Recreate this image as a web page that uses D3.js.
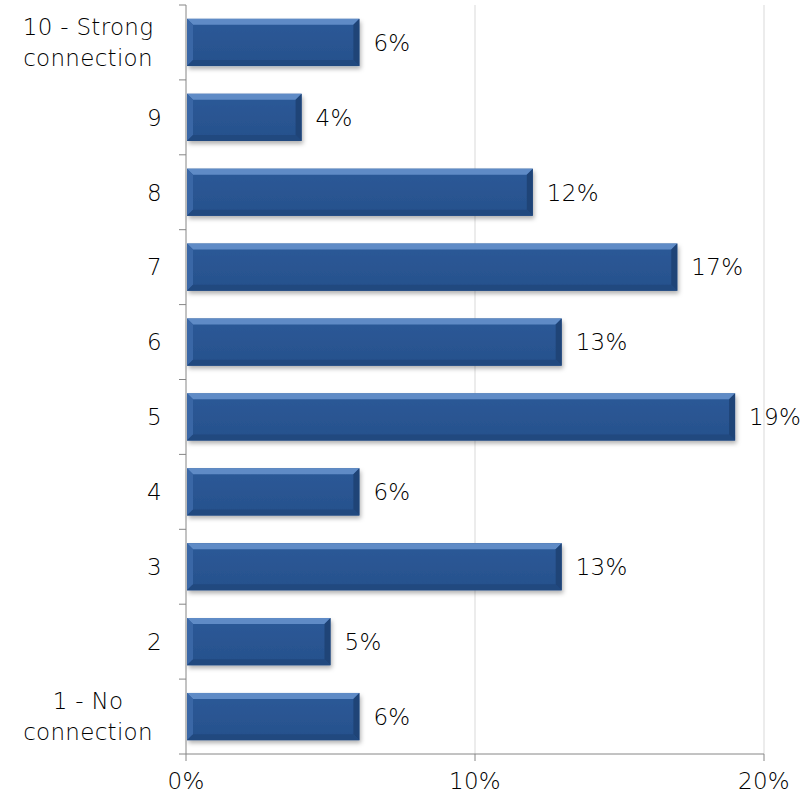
<!DOCTYPE html>
<html><head><meta charset="utf-8">
<script src="https://cdn.jsdelivr.net/npm/d3@7"></script>
<style>body{margin:0;background:#fff}svg{display:block}</style>
</head><body>
<svg id="c" width="803" height="803"></svg>
<script>
const categories = ["10 - Strong connection","9","8","7","6","5","4","3","2","1 - No connection"];
const values = [6,4,12,17,13,19,6,13,5,6];
const xTicks = [0,10,20];

const svg = d3.select("#c");
const font = "'DejaVu Sans', sans-serif";
const fs = 23, ls = "0.3px", fw = 200;
const m = {left:186, right:764, top:5, bottom:754};
const x = d3.scaleLinear().domain([0,20]).range([m.left,m.right]);
const y = d3.scaleBand().domain(categories).range([m.top,m.bottom]).paddingInner(0.37).paddingOuter(0.185);

const defs = svg.append("defs");
const f = defs.append("filter").attr("id","sh").attr("x","-5%").attr("y","-20%").attr("width","115%").attr("height","160%");
f.append("feDropShadow").attr("dx",1.5).attr("dy",3).attr("stdDeviation",2).attr("flood-color","#000").attr("flood-opacity",0.3);
const g1 = defs.append("linearGradient").attr("id","gb").attr("x1",0).attr("y1",0).attr("x2",0).attr("y2",1);
g1.append("stop").attr("offset","0%").attr("stop-color","#2d5a98");
g1.append("stop").attr("offset","100%").attr("stop-color","#26508c");

// gridlines
svg.append("g").selectAll("line").data(xTicks.filter(d=>d>0)).join("line")
  .attr("x1",d=>x(d)).attr("x2",d=>x(d)).attr("y1",m.top).attr("y2",m.bottom)
  .attr("stroke","#d9d9d9").attr("stroke-width",1);

// bars
const bw = 6;
const bars = svg.append("g").selectAll("g").data(categories.map((c,i)=>({c,v:values[i]}))).join("g");
bars.append("rect").attr("x",x(0)+1).attr("y",d=>y(d.c)).attr("width",d=>x(d.v)-x(0)-1).attr("height",y.bandwidth())
  .attr("fill","url(#gb)").attr("filter","url(#sh)");
bars.each(function(d){
  const g = d3.select(this);
  const x0=x(0)+1, x1=x(d.v), y0=y(d.c), y1=y0+y.bandwidth();
  const pts = (a)=>a.map(p=>p.join(",")).join(" ");
  g.append("polygon").attr("points",pts([[x0,y0],[x1,y0],[x1-bw,y0+bw],[x0+bw,y0+bw]])).attr("fill","#5f8bc6");
  g.append("polygon").attr("points",pts([[x0,y0],[x0+bw,y0+bw],[x0+bw,y1-bw],[x0,y1]])).attr("fill","#3a67a6");
  g.append("polygon").attr("points",pts([[x1,y0],[x1,y1],[x1-bw,y1-bw],[x1-bw,y0+bw]])).attr("fill","#1f4477");
  g.append("polygon").attr("points",pts([[x0,y1],[x1,y1],[x1-bw,y1-bw],[x0+bw,y1-bw]])).attr("fill","#21497f");
});
bars.append("text").attr("x",d=>x(d.v)+14).attr("y",d=>y(d.c)+y.bandwidth()/2).attr("dy","0.36em")
  .attr("font-family",font).attr("font-weight",fw).attr("letter-spacing",ls).attr("font-size",fs).attr("fill","#000").text(d=>d.v+"%");

// y axis
const ya = svg.append("g");
ya.append("line").attr("x1",m.left).attr("x2",m.left).attr("y1",m.top).attr("y2",m.bottom).attr("stroke","#868686");
const step = (m.bottom-m.top)/categories.length;
ya.selectAll("line.t").data(d3.range(categories.length+1)).join("line").attr("class","t")
  .attr("x1",m.left-7).attr("x2",m.left).attr("y1",i=>m.top+i*step).attr("y2",i=>m.top+i*step).attr("stroke","#868686");
categories.forEach(c=>{
  const cy = y(c)+y.bandwidth()/2;
  let lines = [c];
  if (c.startsWith("10 - ")) lines = ["10 - Strong","connection"];
  else if (c.startsWith("1 - ")) lines = ["1 - No","connection"];
  const multi = lines.length>1;
  const t = ya.append("text").attr("text-anchor",multi?"middle":"end").attr("font-family",font)
    .attr("font-weight",fw).attr("letter-spacing",ls).attr("font-size",fs).attr("fill","#000");
  const lh = 31;
  lines.forEach((l,i)=>{
    t.append("tspan").attr("x",multi?88:162).attr("y",cy+(i-(lines.length-1)/2)*lh).attr("dy","0.36em").text(l);
  });
});

// x axis
const xa = svg.append("g");
xa.append("line").attr("x1",m.left).attr("x2",m.right).attr("y1",m.bottom).attr("y2",m.bottom).attr("stroke","#868686");
xa.selectAll("line.t").data(xTicks).join("line").attr("class","t")
  .attr("x1",d=>x(d)).attr("x2",d=>x(d)).attr("y1",m.bottom).attr("y2",m.bottom+7).attr("stroke","#868686");
xa.selectAll("text").data(xTicks).join("text").attr("x",d=>x(d)).attr("y",m.bottom+27).attr("dy","0.36em")
  .attr("text-anchor","middle").attr("font-family",font).attr("font-weight",fw).attr("letter-spacing",ls).attr("font-size",fs).attr("fill","#000").text(d=>d+"%");
</script>
</body></html>
